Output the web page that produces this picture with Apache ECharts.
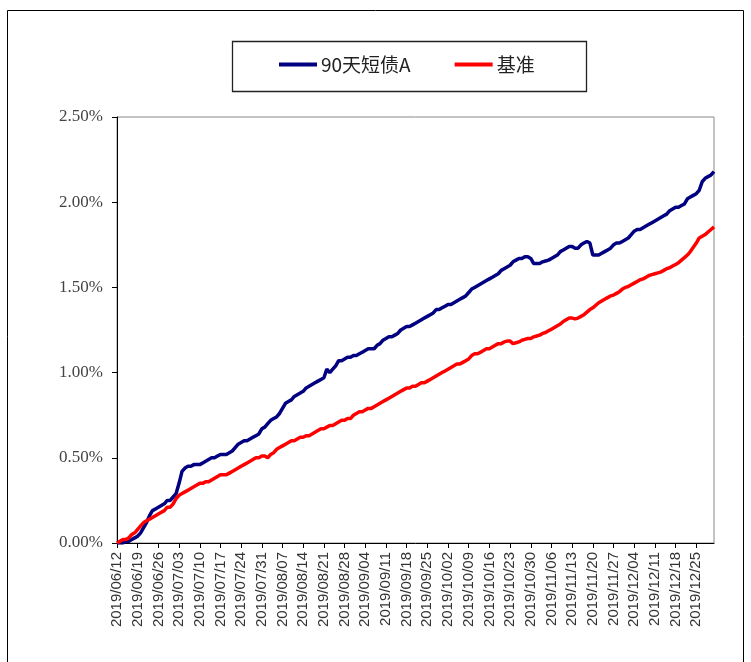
<!DOCTYPE html>
<html>
<head>
<meta charset="utf-8">
<script src="https://cdn.jsdelivr.net/npm/echarts@6/dist/echarts.min.js"></script>
<style>
html,body{margin:0;padding:0;background:#fff;}
#chart{width:751px;height:662px;}
</style>
</head>
<body>
<div id="chart"></div>
<script>
// Daily categories from 2019/06/12 to 2019/12/31
const startDate = new Date(2019, 5, 12);
const endDate = new Date(2019, 11, 31);
const categories = [];
for (let d = new Date(startDate); d <= endDate; d.setDate(d.getDate() + 1)) {
  const mm = String(d.getMonth() + 1).padStart(2, '0');
  const dd = String(d.getDate()).padStart(2, '0');
  categories.push(d.getFullYear() + '/' + mm + '/' + dd);
}

const seriesNames = ['90天短债A', '基准'];

// cumulative return, %
const fundValues = [
  0.00, 0.00, 0.00, 0.01, 0.01, 0.02, 0.03, 0.04, 0.06, 0.09,
  0.12, 0.16, 0.19, 0.20, 0.21, 0.22, 0.23, 0.25, 0.25, 0.27,
  0.29, 0.35, 0.42, 0.44, 0.45, 0.45, 0.46, 0.46, 0.46, 0.47,
  0.48, 0.49, 0.50, 0.50, 0.51, 0.52, 0.52, 0.52, 0.53, 0.54,
  0.56, 0.58, 0.59, 0.60, 0.60, 0.61, 0.62, 0.63, 0.64, 0.67,
  0.68, 0.70, 0.72, 0.73, 0.74, 0.76, 0.79, 0.82, 0.83, 0.84,
  0.86, 0.87, 0.88, 0.89, 0.91, 0.92, 0.93, 0.94, 0.95, 0.96,
  0.97, 1.02, 1.00, 1.02, 1.04, 1.07, 1.07, 1.08, 1.09, 1.09,
  1.10, 1.10, 1.11, 1.12, 1.13, 1.14, 1.14, 1.14, 1.16, 1.17,
  1.19, 1.20, 1.21, 1.21, 1.22, 1.23, 1.25, 1.26, 1.27, 1.27,
  1.28, 1.29, 1.30, 1.31, 1.32, 1.33, 1.34, 1.35, 1.37, 1.37,
  1.38, 1.39, 1.40, 1.40, 1.41, 1.42, 1.43, 1.44, 1.45, 1.47,
  1.49, 1.50, 1.51, 1.52, 1.53, 1.54, 1.55, 1.56, 1.57, 1.58,
  1.60, 1.61, 1.62, 1.63, 1.65, 1.66, 1.67, 1.67, 1.68, 1.68,
  1.67, 1.64, 1.64, 1.64, 1.65, 1.655, 1.66, 1.67, 1.68, 1.69,
  1.71, 1.72, 1.73, 1.74, 1.74, 1.73, 1.73, 1.75, 1.76, 1.77,
  1.76, 1.69, 1.69, 1.69, 1.70, 1.71, 1.72, 1.73, 1.75, 1.76,
  1.76, 1.77, 1.78, 1.79, 1.81, 1.83, 1.84, 1.84, 1.85, 1.86,
  1.87, 1.88, 1.89, 1.90, 1.91, 1.92, 1.93, 1.95, 1.96, 1.97,
  1.97, 1.98, 1.99, 2.02, 2.03, 2.04, 2.05, 2.07, 2.12, 2.14,
  2.15, 2.16, 2.18
];

const benchValues = [
  0.00, 0.01, 0.02, 0.02, 0.03, 0.05, 0.06, 0.08, 0.10, 0.12,
  0.13, 0.14, 0.15, 0.16, 0.17, 0.18, 0.19, 0.21, 0.21, 0.23,
  0.26, 0.28, 0.29, 0.30, 0.31, 0.32, 0.33, 0.34, 0.35, 0.35,
  0.36, 0.36, 0.37, 0.38, 0.39, 0.40, 0.40, 0.40, 0.41, 0.42,
  0.43, 0.44, 0.45, 0.46, 0.47, 0.48, 0.49, 0.50, 0.50, 0.51,
  0.51, 0.50, 0.52, 0.53, 0.55, 0.56, 0.57, 0.58, 0.59, 0.60,
  0.60, 0.61, 0.62, 0.62, 0.63, 0.63, 0.64, 0.65, 0.66, 0.67,
  0.67, 0.68, 0.69, 0.69, 0.70, 0.71, 0.72, 0.72, 0.73, 0.73,
  0.75, 0.76, 0.77, 0.77, 0.78, 0.79, 0.79, 0.80, 0.81, 0.82,
  0.83, 0.84, 0.85, 0.86, 0.87, 0.88, 0.89, 0.90, 0.91, 0.91,
  0.92, 0.92, 0.93, 0.94, 0.94, 0.95, 0.96, 0.97, 0.98, 0.99,
  1.00, 1.01, 1.02, 1.03, 1.04, 1.05, 1.05, 1.06, 1.07, 1.08,
  1.10, 1.11, 1.11, 1.12, 1.13, 1.14, 1.14, 1.15, 1.16, 1.17,
  1.17, 1.18, 1.185, 1.185, 1.17, 1.175, 1.18, 1.19, 1.195, 1.20,
  1.20, 1.21, 1.215, 1.22, 1.23, 1.235, 1.245, 1.255, 1.265, 1.275,
  1.285, 1.30, 1.31, 1.32, 1.32, 1.315, 1.32, 1.33, 1.34, 1.355,
  1.37, 1.38, 1.395, 1.41, 1.42, 1.43, 1.44, 1.45, 1.455, 1.465,
  1.475, 1.49, 1.50, 1.505, 1.515, 1.525, 1.535, 1.545, 1.55, 1.56,
  1.57, 1.575, 1.58, 1.585, 1.59, 1.60, 1.61, 1.615, 1.625, 1.635,
  1.645, 1.66, 1.675, 1.69, 1.71, 1.735, 1.76, 1.79, 1.80, 1.81,
  1.825, 1.84, 1.855
];

const yTicks = [0, 0.5, 1.0, 1.5, 2.0, 2.5];

const chart = echarts.init(document.getElementById('chart'), null, {renderer: 'canvas'});
chart.setOption({
  animation: false,
  backgroundColor: '#fff',
  graphic: [
    {type: 'rect', shape: {x: 7.5, y: 10.5, width: 736, height: 660}, style: {fill: 'none', stroke: '#000', lineWidth: 1}, silent: true},
    {type: 'rect', shape: {x: 232.5, y: 41.5, width: 354, height: 50}, style: {fill: 'none', stroke: '#222', lineWidth: 1.3}, silent: true}
  ],
  legend: {
    data: seriesNames,
    left: 279,
    top: 55,
    padding: 0,
    itemGap: 44,
    itemWidth: 38,
    itemHeight: 4,
    icon: 'rect',
    textStyle: {fontFamily: 'Noto Sans CJK SC', fontSize: 19, color: '#222', padding: [0, 0, 0, -1]}
  },
  grid: {
    left: 117, right: 37, top: 117, bottom: 119,
    show: true, borderColor: '#888', borderWidth: 1, backgroundColor: 'transparent'
  },
  xAxis: {
    type: 'category',
    data: categories,
    boundaryGap: false,
    axisLine: {lineStyle: {color: '#000', width: 1}},
    axisTick: {interval: 6, length: 5, lineStyle: {color: '#000'}},
    axisLabel: {interval: 6, rotate: 90, margin: 9, fontFamily: 'Liberation Sans', fontSize: 15, color: '#333'},
    splitLine: {show: false}
  },
  yAxis: {
    type: 'value',
    min: yTicks[0], max: yTicks[yTicks.length - 1], interval: 0.5,
    axisLine: {show: true, lineStyle: {color: '#000', width: 1}},
    axisTick: {show: true, length: 5, lineStyle: {color: '#000'}},
    axisLabel: {margin: 14, fontFamily: 'Liberation Serif', fontSize: 17, color: '#444',
      formatter: v => v.toFixed(2) + '%'},
    splitLine: {show: false}
  },
  series: [
    {name: seriesNames[0], type: 'line', data: fundValues, symbol: 'none', smooth: false,
      lineStyle: {color: '#000080', width: 3.5}, itemStyle: {color: '#000080'}},
    {name: seriesNames[1], type: 'line', data: benchValues, symbol: 'none', smooth: false,
      lineStyle: {color: '#ff0000', width: 3.5}, itemStyle: {color: '#ff0000'}}
  ]
});
</script>
</body>
</html>
